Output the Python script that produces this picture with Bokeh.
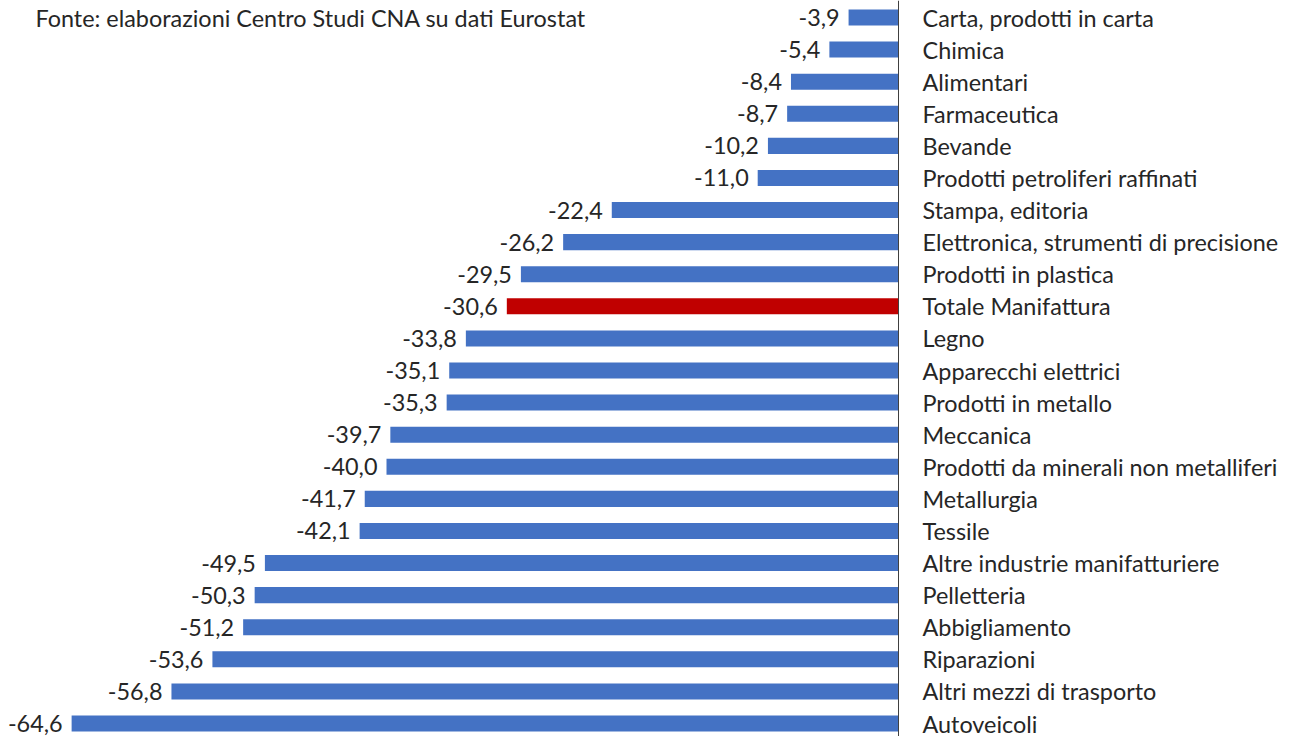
from bokeh.plotting import figure
from bokeh.models import Range1d, Span, ColumnDataSource
from bokeh.core.properties import value
from bokeh.embed import file_html
from bokeh.resources import INLINE

categories = [
    "Carta, prodotti in carta", "Chimica", "Alimentari", "Farmaceutica", "Bevande",
    "Prodotti petroliferi raffinati", "Stampa, editoria", "Elettronica, strumenti di precisione",
    "Prodotti in plastica", "Totale Manifattura", "Legno", "Apparecchi elettrici",
    "Prodotti in metallo", "Meccanica", "Prodotti da minerali non metalliferi", "Metallurgia",
    "Tessile", "Altre industrie manifatturiere", "Pelletteria", "Abbigliamento",
    "Riparazioni", "Altri mezzi di trasporto", "Autoveicoli",
]
values = [-3.9, -5.4, -8.4, -8.7, -10.2, -11.0, -22.4, -26.2, -29.5, -30.6, -33.8, -35.1,
          -35.3, -39.7, -40.0, -41.7, -42.1, -49.5, -50.3, -51.2, -53.6, -56.8, -64.6]
highlight = "Totale Manifattura"
source_text = "Fonte: elaborazioni Centro Studi CNA su dati Eurostat"

BLUE = "#4472C4"
RED = "#C00000"
TXT = "#262626"
FONT = "Lato"
FS = "23.4px"

idx = list(range(len(categories)))
colors = [RED if c == highlight else BLUE for c in categories]
labels = [f"{v:.1f}".replace(".", ",") for v in values]

src = ColumnDataSource(dict(y=idx, v=values, c=colors, lab=labels, cat=categories,
                            zero=[0] * len(idx)))

W, H = 1286, 736
px_per_unit = 12.8
zero_x = 898
x0 = -zero_x / px_per_unit
x1 = (W - zero_x) / px_per_unit
first, last = 17, 723
row = (last - first) / (len(categories) - 1)
y_top = -first / row
y_bot = (H - first) / row

p = figure(width=W, height=H, output_backend="svg", toolbar_location=None,
           x_range=Range1d(x0, x1), y_range=Range1d(y_bot, y_top),
           min_border=0, outline_line_color=None)
p.axis.visible = False
p.grid.visible = False
p.background_fill_color = "white"

p.hbar(y="y", left="v", right="zero", height=0.5, fill_color="c", line_color=None, source=src)

p.add_layout(Span(location=0, dimension="height", line_color="#404040", line_width=1))

p.text(x="v", y="y", text="lab", source=src, text_align="right", text_baseline="middle",
       x_offset=-9, text_font=value(FONT), text_font_size=FS, text_color=TXT)
p.text(x="zero", y="y", text="cat", source=src, text_align="left", text_baseline="middle",
       x_offset=24, text_font=value(FONT), text_font_size=FS, text_color=TXT)

p.text(x=[x0], y=[(17 - first) / row], text=[source_text], text_align="left",
       text_baseline="alphabetic", x_offset=35, text_font=value(FONT), text_font_size=FS,
       text_color=TXT)

open("out.html", "w").write(file_html(p, INLINE))
